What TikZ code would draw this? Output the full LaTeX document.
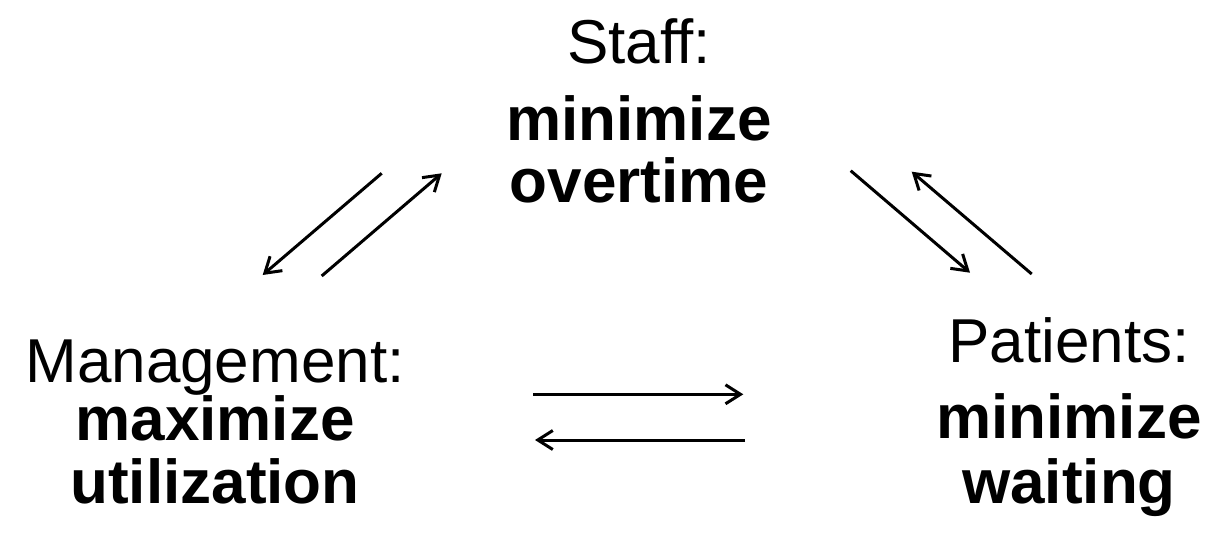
\documentclass[tikz,border=0pt]{standalone}
\usepackage{fontspec}
\setmainfont{Liberation Sans}
\usetikzlibrary{arrows.meta}
\begin{document}
\begin{tikzpicture}[x=1pt,y=-1pt,
  party/.style={align=center,anchor=base,inner sep=0pt,font=\fontsize{62}{62}\selectfont},
  link/.style={line width=3pt,-{Straight Barb[length=15pt,width=19pt]}}]
\useasboundingbox (0,0) rectangle (1215,538);
\node[party] (staff) at (639,202) {Staff:\\[15pt]\textbf{minimize}\\\textbf{overtime}};
\node[party] (mgmt) at (215,503) {Management:\\[-4pt]\textbf{maximize}\\[1pt]\textbf{utilization}};
\node[party] (pat) at (1069,503) {Patients:\\[14pt]\textbf{minimize}\\[3pt]\textbf{waiting}};
\coordinate (a1) at (381.7,173.3); \coordinate (a2) at (262.7,275);
\coordinate (b1) at (321.7,276);   \coordinate (b2) at (441.7,173.3);
\coordinate (c1) at (850.7,170.7); \coordinate (c2) at (970,272.7);
\coordinate (d1) at (1031.7,274);  \coordinate (d2) at (911.7,171.7);
\coordinate (e1) at (533.3,394.3); \coordinate (e2) at (743.3,394.3);
\coordinate (f1) at (745,440);     \coordinate (f2) at (535,440);
\draw[link] (a1) -- (a2);
\draw[link] (b1) -- (b2);
\draw[link] (c1) -- (c2);
\draw[link] (d1) -- (d2);
\draw[link] (e1) -- (e2);
\draw[link] (f1) -- (f2);
\end{tikzpicture}
\end{document}
